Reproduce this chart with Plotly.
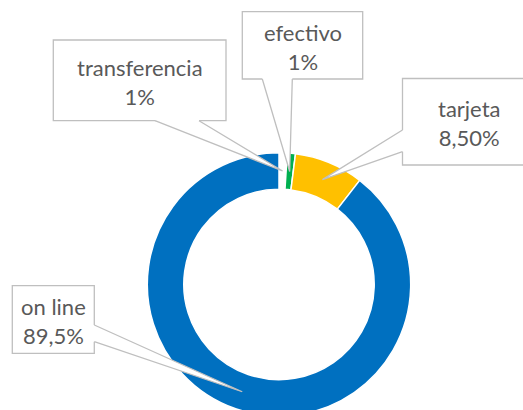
import math
import plotly.graph_objects as go

# ---- data ----
categories = ["transferencia", "efectivo", "tarjeta", "on line"]
values = [1, 1, 8.5, 89.5]
value_labels = ["1%", "1%", "8,50%", "89,5%"]
colors = ["#FFFFFF", "#00B050", "#FFC000", "#0070C0"]

# ---- layout geometry (pixels) ----
W, H = 523, 420
cx, cy, R = 279.0, 284.4, 131.7
hole = 0.723
r_tip = R * (1 + hole) / 2

# label boxes: x0, y0, x1, y1 (pixels, from top-left)
boxes = [
    (53.3, 40.0, 226.0, 120.7),
    (242.3, 11.7, 362.7, 79.0),
    (402.5, 78.5, 540.0, 165.0),
    (12.3, 285.7, 94.3, 353.3),
]
text_centers = [(140.0, 82.0), (302.5, 46.5), (469.0, 123.0), (53.3, 320.5)]
# wedge base points on each box edge, plus inward direction (pixels)
bases = [
    ((155.0, 120.7), (199.0, 120.7), (0, -2)),
    ((262.3, 79.0), (292.3, 79.0), (0, -2)),
    ((402.5, 130.0), (402.5, 151.7), (2, 0)),
    ((94.3, 325.0), (94.3, 341.7), (-2, 0)),
]
GRAY = "#BFBFBF"


def px(x):
    return x / W


def py(y):
    return 1 - y / H


def pt(x, y):
    return "{:.5f},{:.5f}".format(px(x), py(y))


fig = go.Figure()
fig.add_trace(go.Pie(
    labels=categories,
    values=values,
    sort=False,
    direction="clockwise",
    rotation=0,
    hole=hole,
    marker=dict(colors=colors, line=dict(color="#FFFFFF", width=1.5)),
    textinfo="none",
    hoverinfo="label+percent",
    showlegend=False,
    domain=dict(x=[px(cx - R), px(cx + R)], y=[py(cy + R), py(cy - R)]),
))

total = sum(values)
cum = 0.0
shapes = []
annotations = []
for i, v in enumerate(values):
    mid = (cum + v / 2) / total * 2 * math.pi
    cum += v
    tx = cx + r_tip * math.sin(mid)
    ty = cy - r_tip * math.cos(mid)
    x0, y0, x1, y1 = boxes[i]
    shapes.append(dict(type="rect", xref="paper", yref="paper",
                       x0=px(x0), x1=px(x1), y0=py(y1), y1=py(y0),
                       line=dict(color=GRAY, width=1.3),
                       fillcolor="#FFFFFF", layer="above"))
    (b1x, b1y), (b2x, b2y), (dx, dy) = bases[i]
    # white fill of the callout pointer (covers the box edge where it opens)
    fill_path = "M {} L {} L {} L {} L {} Z".format(
        pt(b1x + dx, b1y + dy), pt(b1x, b1y), pt(tx, ty),
        pt(b2x, b2y), pt(b2x + dx, b2y + dy))
    shapes.append(dict(type="path", xref="paper", yref="paper", path=fill_path,
                       line=dict(width=0), fillcolor="#FFFFFF", layer="above"))
    # grey outline of the pointer
    line_path = "M {} L {} L {}".format(pt(b1x, b1y), pt(tx, ty), pt(b2x, b2y))
    shapes.append(dict(type="path", xref="paper", yref="paper", path=line_path,
                       line=dict(color=GRAY, width=1.3),
                       fillcolor="rgba(0,0,0,0)", layer="above"))
    cxt, cyt = text_centers[i]
    annotations.append(dict(
        x=px(cxt), y=py(cyt), xref="paper", yref="paper",
        text=categories[i] + "<br>" + value_labels[i],
        showarrow=False, xanchor="center", yanchor="middle",
        font=dict(family="Lato", size=22, color="#595959"),
    ))

fig.update_layout(
    width=W, height=H,
    margin=dict(l=0, r=0, t=0, b=0),
    paper_bgcolor="#FFFFFF",
    plot_bgcolor="#FFFFFF",
    shapes=shapes,
    annotations=annotations,
)

fig.write_html(
    "out.html",
    config={"displayModeBar": False},
    post_script="document.body.style.margin='0';"
                "document.body.style.overflow='hidden';",
)
